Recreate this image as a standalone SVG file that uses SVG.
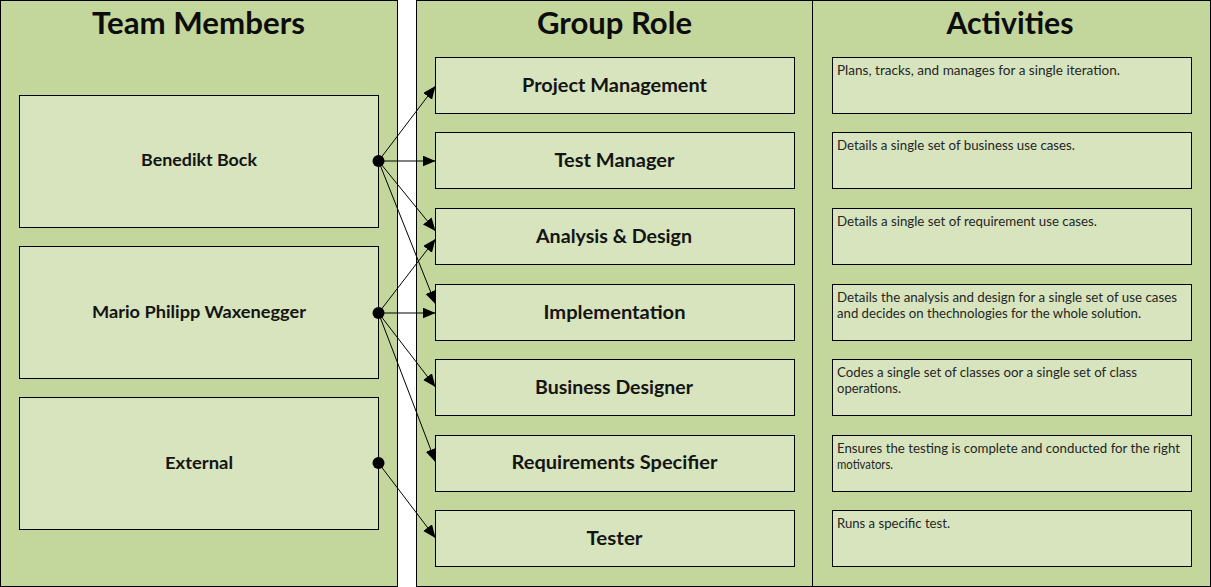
<svg xmlns="http://www.w3.org/2000/svg" width="1211" height="587" viewBox="0 0 1211 587">
<style>
.panel{fill:#c3d69b;stroke:#000;stroke-width:1}
.box{fill:#d7e4bd;stroke:#000;stroke-width:1}
.hdr{font-family:Lato,"Open Sans","Liberation Sans",sans-serif;font-weight:bold;font-size:30px;fill:#0d0d0d;text-anchor:middle}
.lbl{font-family:Lato,"Open Sans","Liberation Sans",sans-serif;font-weight:bold;font-size:18.5px;fill:#141414;text-anchor:middle}
.mem{font-family:Lato,"Open Sans","Liberation Sans",sans-serif;font-weight:bold;font-size:17px;fill:#141414;text-anchor:middle}
.act{font-family:Lato,"Open Sans","Liberation Sans",sans-serif;font-size:13px;fill:#262626}
.con{stroke:#000;stroke-width:1;fill:none;marker-end:url(#arr)}
.dot{fill:#000}
</style>
<defs>
<marker id="arr" markerUnits="userSpaceOnUse" markerWidth="14" markerHeight="12" refX="13" refY="5.5" orient="auto">
<path d="M0,0 L13,5.5 L0,11 z" fill="#000"/>
</marker>
</defs>
<g id="panels">
<rect class="panel" x="0.5" y="0.5" width="397" height="586"/>
<rect class="panel" x="416.5" y="0.5" width="396" height="586"/>
<rect class="panel" x="812.5" y="0.5" width="398" height="586"/>
<text class="hdr" x="198.5" y="34" textLength="213" lengthAdjust="spacingAndGlyphs">Team Members</text>
<text class="hdr" x="614.5" y="34" textLength="155" lengthAdjust="spacingAndGlyphs">Group Role</text>
<text class="hdr" x="1010" y="34" textLength="127" lengthAdjust="spacingAndGlyphs">Activities</text>
</g>
<g id="member-bock"><rect class="box" x="19.5" y="95.5" width="359" height="132"/><text class="mem" x="199" y="166" textLength="116" lengthAdjust="spacingAndGlyphs">Benedikt Bock</text></g>
<g id="member-waxenegger"><rect class="box" x="19.5" y="246.5" width="359" height="132"/><text class="mem" x="199" y="318" textLength="214" lengthAdjust="spacingAndGlyphs">Mario Philipp Waxenegger</text></g>
<g id="member-external"><rect class="box" x="19.5" y="397.5" width="359" height="132"/><text class="mem" x="199" y="469" textLength="68" lengthAdjust="spacingAndGlyphs">External</text></g>
<g id="role-pm"><rect class="box" x="435.5" y="57.5" width="359" height="56"/><text class="lbl" x="614.5" y="91.5" textLength="185" lengthAdjust="spacingAndGlyphs">Project Management</text></g>
<g id="role-tm"><rect class="box" x="435.5" y="132.5" width="359" height="56"/><text class="lbl" x="614.5" y="166.5" textLength="120" lengthAdjust="spacingAndGlyphs">Test Manager</text></g>
<g id="role-ad"><rect class="box" x="435.5" y="208.5" width="359" height="56"/><text class="lbl" x="614" y="242.5" textLength="156" lengthAdjust="spacingAndGlyphs">Analysis &amp; Design</text></g>
<g id="role-impl"><rect class="box" x="435.5" y="284.5" width="359" height="56"/><text class="lbl" x="614.5" y="318.5" textLength="142" lengthAdjust="spacingAndGlyphs">Implementation</text></g>
<g id="role-bd"><rect class="box" x="435.5" y="359.5" width="359" height="56"/><text class="lbl" x="614" y="393.5" textLength="158" lengthAdjust="spacingAndGlyphs">Business Designer</text></g>
<g id="role-rs"><rect class="box" x="435.5" y="435.5" width="359" height="56"/><text class="lbl" x="614.5" y="469" textLength="206" lengthAdjust="spacingAndGlyphs">Requirements Specifier</text></g>
<g id="role-tester"><rect class="box" x="435.5" y="510.5" width="359" height="56"/><text class="lbl" x="614.5" y="545" textLength="56" lengthAdjust="spacingAndGlyphs">Tester</text></g>
<g id="act-pm"><rect class="box" x="832.5" y="57.5" width="359" height="56"/><text class="act" x="837" y="75" textLength="283" lengthAdjust="spacingAndGlyphs">Plans, tracks, and manages for a single iteration.</text></g>
<g id="act-tm"><rect class="box" x="832.5" y="132.5" width="359" height="56"/><text class="act" x="837" y="150" textLength="238" lengthAdjust="spacingAndGlyphs">Details a single set of business use cases.</text></g>
<g id="act-ad"><rect class="box" x="832.5" y="208.5" width="359" height="56"/><text class="act" x="837" y="226" textLength="260" lengthAdjust="spacingAndGlyphs">Details a single set of requirement use cases.</text></g>
<g id="act-impl"><rect class="box" x="832.5" y="284.5" width="359" height="56"/><text class="act" x="837" y="302" textLength="340" lengthAdjust="spacingAndGlyphs">Details the analysis and design for a single set of use cases</text><text class="act" x="837" y="317.6" textLength="304" lengthAdjust="spacingAndGlyphs">and decides on thechnologies for the whole solution.</text></g>
<g id="act-bd"><rect class="box" x="832.5" y="359.5" width="359" height="56"/><text class="act" x="837" y="377" textLength="300" lengthAdjust="spacingAndGlyphs">Codes a single set of classes oor a single set of class</text><text class="act" x="837" y="392.6" textLength="64" lengthAdjust="spacingAndGlyphs">operations.</text></g>
<g id="act-rs"><rect class="box" x="832.5" y="435.5" width="359" height="56"/><text class="act" x="837" y="453" textLength="343" lengthAdjust="spacingAndGlyphs">Ensures the testing is complete and conducted for the right</text><text class="act" x="837" y="468.6" textLength="56" lengthAdjust="spacingAndGlyphs">motivators.</text></g>
<g id="act-tester"><rect class="box" x="832.5" y="510.5" width="359" height="56"/><text class="act" x="837" y="528" textLength="113" lengthAdjust="spacingAndGlyphs">Runs a specific test.</text></g>
<g id="connectors">
<line class="con" x1="378.5" y1="161" x2="435.5" y2="86"/>
<line class="con" x1="378.5" y1="161" x2="435.5" y2="161"/>
<line class="con" x1="378.5" y1="161" x2="435.5" y2="231"/>
<line class="con" x1="378.5" y1="161" x2="435.5" y2="304"/>
<line class="con" x1="378.5" y1="313" x2="435.5" y2="239"/>
<line class="con" x1="378.5" y1="313" x2="435.5" y2="313"/>
<line class="con" x1="378.5" y1="313" x2="435.5" y2="387"/>
<line class="con" x1="378.5" y1="313" x2="435.5" y2="462"/>
<line class="con" x1="378.5" y1="463" x2="435.5" y2="538"/>
<circle class="dot" cx="378.5" cy="161" r="6"/>
<circle class="dot" cx="378.5" cy="313" r="6"/>
<circle class="dot" cx="378.5" cy="463" r="6"/>
</g>
</svg>
